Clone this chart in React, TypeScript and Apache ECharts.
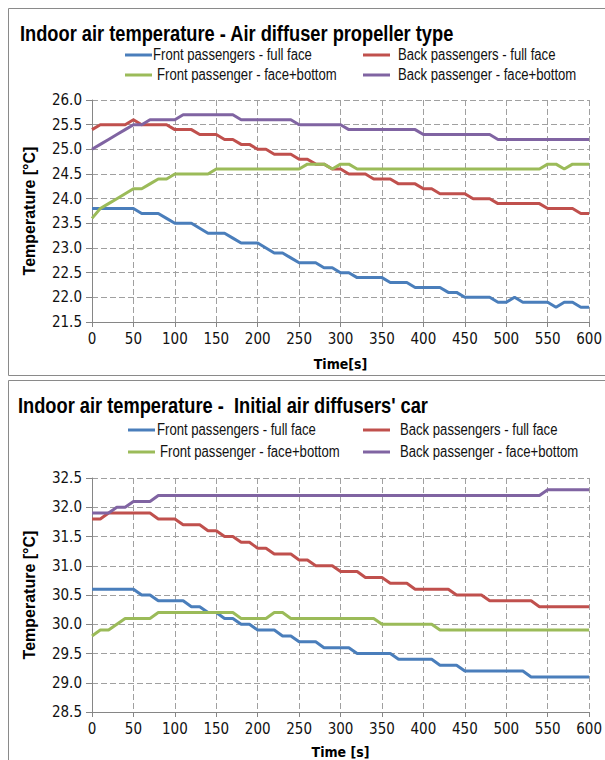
import React, { useEffect, useRef } from "react";
import * as echarts from "echarts";

const FONT = "'DejaVu Sans Condensed', 'Liberation Sans Narrow', sans-serif";
const ARIAL = "'Liberation Sans', Arial, sans-serif";
const NARROW = 0.82;

const TIME = [
  0, 10, 20, 30, 40, 50, 60, 70, 80, 90, 100, 110, 120, 130, 140, 150, 160, 170, 180, 190, 200,
  210, 220, 230, 240, 250, 260, 270, 280, 290, 300, 310, 320, 330, 340, 350, 360, 370, 380, 390, 400,
  410, 420, 430, 440, 450, 460, 470, 480, 490, 500, 510, 520, 530, 540, 550, 560, 570, 580, 590, 600,
];

const SERIES_NAMES = [
  "Front passengers - full face",
  "Back passengers - full face",
  "Front passenger - face+bottom",
  "Back passenger - face+bottom",
];
const COLORS = ["#4a7ebb", "#c0504d", "#9bbb59", "#8064a2"];

// Chart 1: Air diffuser propeller type
const PROP_FRONT_FULL = [
  23.8, 23.8, 23.8, 23.8, 23.8, 23.8,
  23.7, 23.7, 23.7, 23.6, 23.5,
  23.5, 23.5, 23.4, 23.3, 23.3,
  23.3, 23.2, 23.1, 23.1, 23.1,
  23.0, 22.9, 22.9, 22.8, 22.7,
  22.7, 22.7, 22.6, 22.6, 22.5,
  22.5, 22.4, 22.4, 22.4, 22.4,
  22.3, 22.3, 22.3, 22.2, 22.2,
  22.2, 22.2, 22.1, 22.1, 22.0,
  22.0, 22.0, 22.0, 21.9, 21.9,
  22.0, 21.9, 21.9, 21.9, 21.9,
  21.8, 21.9, 21.9, 21.8, 21.8,
];
const PROP_BACK_FULL = [
  25.4, 25.5, 25.5, 25.5, 25.5, 25.6,
  25.5, 25.5, 25.5, 25.5, 25.4,
  25.4, 25.4, 25.3, 25.3, 25.3,
  25.2, 25.2, 25.1, 25.1, 25.0,
  25.0, 24.9, 24.9, 24.9, 24.8,
  24.8, 24.7, 24.7, 24.6, 24.6,
  24.5, 24.5, 24.5, 24.4, 24.4,
  24.4, 24.3, 24.3, 24.3, 24.2,
  24.2, 24.1, 24.1, 24.1, 24.1,
  24.0, 24.0, 24.0, 23.9, 23.9,
  23.9, 23.9, 23.9, 23.9, 23.8,
  23.8, 23.8, 23.8, 23.7, 23.7,
];
const PROP_FRONT_FB = [
  23.6, 23.8, 23.9, 24.0, 24.1, 24.2,
  24.2, 24.3, 24.4, 24.4, 24.5,
  24.5, 24.5, 24.5, 24.5, 24.6,
  24.6, 24.6, 24.6, 24.6, 24.6,
  24.6, 24.6, 24.6, 24.6, 24.6,
  24.7, 24.7, 24.7, 24.6, 24.7,
  24.7, 24.6, 24.6, 24.6, 24.6,
  24.6, 24.6, 24.6, 24.6, 24.6,
  24.6, 24.6, 24.6, 24.6, 24.6,
  24.6, 24.6, 24.6, 24.6, 24.6,
  24.6, 24.6, 24.6, 24.6, 24.7,
  24.7, 24.6, 24.7, 24.7, 24.7,
];
const PROP_BACK_FB = [
  25.0, 25.1, 25.2, 25.3, 25.4, 25.5,
  25.5, 25.6, 25.6, 25.6, 25.6,
  25.7, 25.7, 25.7, 25.7, 25.7,
  25.7, 25.7, 25.6, 25.6, 25.6,
  25.6, 25.6, 25.6, 25.6, 25.5,
  25.5, 25.5, 25.5, 25.5, 25.5,
  25.4, 25.4, 25.4, 25.4, 25.4,
  25.4, 25.4, 25.4, 25.4, 25.3,
  25.3, 25.3, 25.3, 25.3, 25.3,
  25.3, 25.3, 25.3, 25.2, 25.2,
  25.2, 25.2, 25.2, 25.2, 25.2,
  25.2, 25.2, 25.2, 25.2, 25.2,
];

// Chart 2: Initial air diffusers' car
const INIT_FRONT_FULL = [
  30.6, 30.6, 30.6, 30.6, 30.6, 30.6,
  30.5, 30.5, 30.4, 30.4, 30.4,
  30.4, 30.3, 30.3, 30.2, 30.2,
  30.1, 30.1, 30.0, 30.0, 29.9,
  29.9, 29.9, 29.8, 29.8, 29.7,
  29.7, 29.7, 29.6, 29.6, 29.6,
  29.6, 29.5, 29.5, 29.5, 29.5,
  29.5, 29.4, 29.4, 29.4, 29.4,
  29.4, 29.3, 29.3, 29.3, 29.2,
  29.2, 29.2, 29.2, 29.2, 29.2,
  29.2, 29.2, 29.1, 29.1, 29.1,
  29.1, 29.1, 29.1, 29.1, 29.1,
];
const INIT_BACK_FULL = [
  31.8, 31.8, 31.9, 31.9, 31.9, 31.9,
  31.9, 31.9, 31.8, 31.8, 31.8,
  31.7, 31.7, 31.7, 31.6, 31.6,
  31.5, 31.5, 31.4, 31.4, 31.3,
  31.3, 31.2, 31.2, 31.2, 31.1,
  31.1, 31.0, 31.0, 31.0, 30.9,
  30.9, 30.9, 30.8, 30.8, 30.8,
  30.7, 30.7, 30.7, 30.6, 30.6,
  30.6, 30.6, 30.6, 30.5, 30.5,
  30.5, 30.5, 30.4, 30.4, 30.4,
  30.4, 30.4, 30.4, 30.3, 30.3,
  30.3, 30.3, 30.3, 30.3, 30.3,
];
const INIT_FRONT_FB = [
  29.8, 29.9, 29.9, 30.0, 30.1, 30.1,
  30.1, 30.1, 30.2, 30.2, 30.2,
  30.2, 30.2, 30.2, 30.2, 30.2,
  30.2, 30.2, 30.1, 30.1, 30.1,
  30.1, 30.2, 30.2, 30.1, 30.1,
  30.1, 30.1, 30.1, 30.1, 30.1,
  30.1, 30.1, 30.1, 30.1, 30.0,
  30.0, 30.0, 30.0, 30.0, 30.0,
  30.0, 29.9, 29.9, 29.9, 29.9,
  29.9, 29.9, 29.9, 29.9, 29.9,
  29.9, 29.9, 29.9, 29.9, 29.9,
  29.9, 29.9, 29.9, 29.9, 29.9,
];
const INIT_BACK_FB = [
  31.9, 31.9, 31.9, 32.0, 32.0, 32.1,
  32.1, 32.1, 32.2, 32.2, 32.2,
  32.2, 32.2, 32.2, 32.2, 32.2,
  32.2, 32.2, 32.2, 32.2, 32.2,
  32.2, 32.2, 32.2, 32.2, 32.2,
  32.2, 32.2, 32.2, 32.2, 32.2,
  32.2, 32.2, 32.2, 32.2, 32.2,
  32.2, 32.2, 32.2, 32.2, 32.2,
  32.2, 32.2, 32.2, 32.2, 32.2,
  32.2, 32.2, 32.2, 32.2, 32.2,
  32.2, 32.2, 32.2, 32.2, 32.3,
  32.3, 32.3, 32.3, 32.3, 32.3,
];

const X_TICKS = { min: 0, max: 600, interval: 50 };
const Y1 = { min: 21.5, max: 26.0, interval: 0.5 };
const Y2 = { min: 28.5, max: 32.5, interval: 0.5 };

const TITLE1 = "Indoor air temperature - Air diffuser propeller type";
const TITLE2 = "Indoor air temperature -  Initial air diffusers' car";
const X_NAME1 = "Time[s]";
const X_NAME2 = "Time [s]";
const Y_NAME = "Temperature [°C]";

const GRID_COLOR = "#a0a0a0";
const AXIS_COLOR = "#868686";

function xAxis(gridIndex: number, name: string, gap: number) {
  return {
    type: "value",
    gridIndex,
    min: X_TICKS.min,
    max: X_TICKS.max,
    interval: X_TICKS.interval,
    name,
    nameLocation: "middle",
    nameGap: gap,
    nameTextStyle: { fontFamily: FONT, fontWeight: "bold", fontSize: 14, color: "#000" },
    axisLine: { show: true, onZero: false, lineStyle: { color: AXIS_COLOR, width: 1 } },
    axisTick: { show: true, length: 5, lineStyle: { color: AXIS_COLOR } },
    axisLabel: { fontFamily: FONT, fontSize: 15, color: "#111", margin: 9 },
    splitLine: { show: true, lineStyle: { color: GRID_COLOR, type: [6, 3], width: 1 } },
  };
}

function yAxis(gridIndex: number, r: { min: number; max: number; interval: number }) {
  return {
    type: "value",
    gridIndex,
    min: r.min,
    max: r.max,
    interval: r.interval,
    name: Y_NAME,
    nameLocation: "middle",
    nameRotate: 90,
    nameGap: 55,
    nameTextStyle: { fontFamily: ARIAL, fontWeight: "bold", fontSize: 16, color: "#000" },
    axisLine: { show: true, onZero: false, lineStyle: { color: AXIS_COLOR, width: 1 } },
    axisTick: { show: true, length: 6, lineStyle: { color: AXIS_COLOR } },
    axisLabel: {
      fontFamily: FONT,
      fontSize: 15,
      color: "#111",
      margin: 10,
      formatter: (v: number) => v.toFixed(1),
    },
    splitLine: { show: true, lineStyle: { color: GRID_COLOR, type: [6, 3], width: 1 } },
  };
}

function legendGraphic(name: string, color: string, lineX: number, y: number, textX: number) {
  return [
    {
      type: "line",
      shape: { x1: lineX, y1: y, x2: lineX + 27, y2: y },
      style: { stroke: color, lineWidth: 3 },
      silent: true,
    },
    {
      type: "text",
      x: textX,
      y,
      scaleX: NARROW,
      style: {
        text: name,
        fontFamily: ARIAL,
        fontSize: 16,
        fill: "#111",
        verticalAlign: "middle",
        textVerticalAlign: "middle",
      },
      silent: true,
    },
  ];
}

function titleGraphic(text: string, x: number, y: number) {
  return {
    type: "text",
    x,
    y,
    scaleX: 0.83,
    style: {
      text,
      fontFamily: ARIAL,
      fontWeight: "bold",
      fontSize: 22,
      fill: "#000",
      verticalAlign: "middle",
      textVerticalAlign: "middle",
    },
    silent: true,
  };
}

function lineSeries(name: string, color: string, values: number[], idx: number) {
  return {
    type: "line",
    name,
    xAxisIndex: idx,
    yAxisIndex: idx,
    data: TIME.map((t, i) => [t, values[i]]),
    showSymbol: false,
    symbol: "none",
    lineStyle: { color, width: 3 },
    itemStyle: { color },
    z: 3,
  };
}

export default function App() {
  const ref = useRef<HTMLDivElement>(null);
  useEffect(() => {
    if (!ref.current) return;
    const chart = echarts.init(ref.current, undefined, { renderer: "svg" });
    const top1 = [PROP_FRONT_FULL, PROP_BACK_FULL, PROP_FRONT_FB, PROP_BACK_FB];
    const top2 = [INIT_FRONT_FULL, INIT_BACK_FULL, INIT_FRONT_FB, INIT_BACK_FB];
    chart.setOption({
      animation: false,
      backgroundColor: "#ffffff",
      grid: [
        { left: 92, top: 100, width: 501, height: 222 },
        { left: 92, top: 478, width: 501, height: 239 },
      ],
      xAxis: [xAxis(0, X_NAME1, 35), xAxis(1, X_NAME2, 33)],
      yAxis: [yAxis(0, Y1), yAxis(1, Y2)],
      graphic: [
        {
          type: "rect",
          shape: { x: 8.5, y: 8.5, width: 620, height: 367 },
          style: { fill: "none", stroke: "#8a8a8a", lineWidth: 1 },
          silent: true,
        },
        {
          type: "rect",
          shape: { x: 8.5, y: 380.5, width: 620, height: 420 },
          style: { fill: "none", stroke: "#8a8a8a", lineWidth: 1 },
          silent: true,
        },
        titleGraphic(TITLE1, 20, 33),
        titleGraphic(TITLE2, 18, 405),
        ...legendGraphic(SERIES_NAMES[0], COLORS[0], 125, 55, 153),
        ...legendGraphic(SERIES_NAMES[1], COLORS[1], 363, 55, 398),
        ...legendGraphic(SERIES_NAMES[2], COLORS[2], 125, 75, 157),
        ...legendGraphic(SERIES_NAMES[3], COLORS[3], 363, 75, 398),
        ...legendGraphic(SERIES_NAMES[0], COLORS[0], 128, 430, 157),
        ...legendGraphic(SERIES_NAMES[1], COLORS[1], 363, 430, 400),
        ...legendGraphic(SERIES_NAMES[2], COLORS[2], 128, 452, 160),
        ...legendGraphic(SERIES_NAMES[3], COLORS[3], 363, 452, 400),
      ],
      series: [
        ...SERIES_NAMES.map((n, i) => lineSeries(n, COLORS[i], top1[i], 0)),
        ...SERIES_NAMES.map((n, i) => lineSeries(n, COLORS[i], top2[i], 1)),
      ],
    });
    return () => chart.dispose();
  }, []);
  return (
    <div
      ref={ref}
      style={{ position: "absolute", left: 0, top: 0, width: 605, height: 760 }}
    />
  );
}
